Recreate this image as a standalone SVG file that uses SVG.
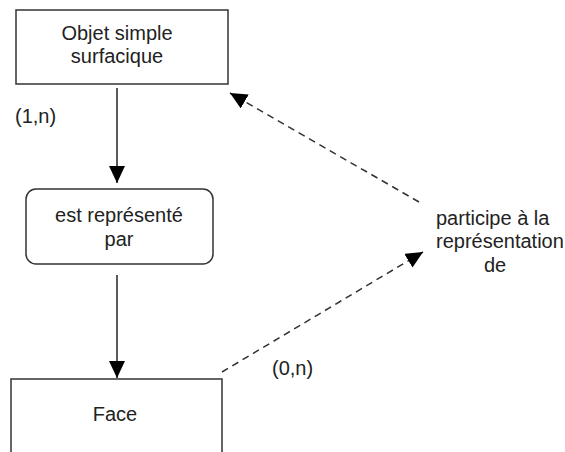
<svg xmlns="http://www.w3.org/2000/svg" width="565" height="452" viewBox="0 0 565 452">
<style>
.box{fill:#fff;stroke:#333;stroke-width:1.5}
.t{font-family:"Liberation Sans",Arial,sans-serif;font-size:20px;fill:#222}
.c{text-anchor:middle}
.ln{stroke:#222;stroke-width:1.5;fill:none}
.dash{stroke:#333;stroke-width:1.5;fill:none;stroke-dasharray:7 5}
</style>
<defs>
<marker id="ah" markerUnits="userSpaceOnUse" markerWidth="17" markerHeight="16" refX="17" refY="8" orient="auto">
<path d="M0,0 L17,8 L0,16 z" fill="#000"/>
</marker>
</defs>
<rect width="565" height="452" fill="#fff"/>
<g id="objet">
<rect class="box" x="16" y="10" width="212" height="74"/>
<text class="t c" x="117" y="40">Objet simple</text>
<text class="t c" x="117" y="63">surfacique</text>
</g>
<g id="est-represente">
<rect class="box" x="26" y="189" width="187" height="75" rx="10" ry="10"/>
<text class="t c" x="119" y="222">est représenté</text>
<text class="t c" x="119" y="246">par</text>
</g>
<g id="face">
<rect class="box" x="11" y="379" width="211" height="100"/>
<text class="t c" x="115" y="421">Face</text>
</g>
<g id="participe">
<text class="t" x="436" y="225">participe à la</text>
<text class="t" x="436" y="248">représentation</text>
<text class="t c" x="495" y="272">de</text>
</g>
<g id="connectors">
<line class="ln" x1="117" y1="88" x2="117" y2="183" marker-end="url(#ah)"/>
<line class="ln" x1="117" y1="275" x2="117" y2="378" marker-end="url(#ah)"/>
<line class="dash" x1="419" y1="202" x2="230" y2="93" marker-end="url(#ah)"/>
<line class="dash" x1="222" y1="372" x2="423" y2="252" marker-end="url(#ah)"/>
<text class="t" x="15" y="123">(1,n)</text>
<text class="t" x="272" y="375">(0,n)</text>
</g>
</svg>
